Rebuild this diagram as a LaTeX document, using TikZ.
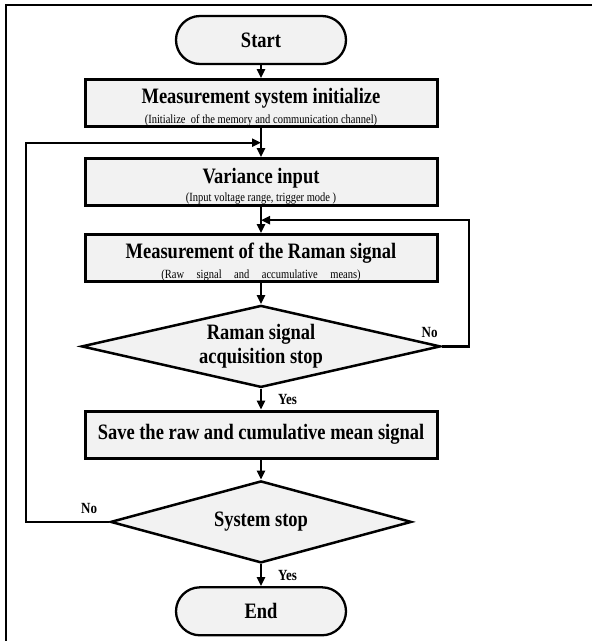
\documentclass[tikz,border=0pt]{standalone}
\usepackage{fontspec}
\setmainfont[FakeStretch=0.84]{Liberation Serif}
\usetikzlibrary{shapes.geometric, arrows.meta, positioning, calc}
\definecolor{boxgray}{HTML}{F2F2F2}
\newcommand{\subline}[1]{{\fontsize{12.5}{14}\selectfont\mdseries #1}}
\newcommand{\boxtitle}[1]{\rule{0pt}{24pt}#1}

\begin{document}
\begin{tikzpicture}[
  x=1pt, y=-1pt,
  node distance=20pt,
  term/.style={draw, line width=2.3pt, fill=boxgray, rounded corners=24pt,
               minimum width=170pt, minimum height=48pt,
               font=\fontsize{22}{24}\selectfont\bfseries},
  box/.style={draw, line width=3pt, fill=boxgray, minimum width=352pt,
              minimum height=47pt, inner sep=0pt, align=center,
              font=\fontsize{22}{24}\selectfont\bfseries},
  dec/.style={draw, diamond, line width=2.5pt, fill=boxgray, inner sep=0pt,
              aspect=4.3, minimum height=82pt, align=center,
              font=\fontsize{22}{24}\selectfont\bfseries},
  arr/.style={-{Triangle[length=9pt, width=8pt]}, line width=2.3pt},
  lbl/.style={inner sep=0pt, font=\fontsize{15.5}{16}\selectfont\bfseries}
]
\useasboundingbox (0,0) rectangle (592,641);
\draw[line width=2.5pt] (6,641) -- (6,5) -- (592,5);

\node[term] (start) at (261,40) {Start};
\node[box, below=13pt of start] (init) {\boxtitle{Measurement system initialize}\\[-4pt]\subline{(Initialize\ \ of the memory and communication channel)}};
\node[box, below=29pt of init] (var) {\boxtitle{Variance input}\\[-6pt]\subline{(Input voltage range, trigger mode )}};
\node[box, below=26pt of var] (meas) {\boxtitle{Measurement of the Raman signal}\\[-4pt]\subline{(Raw\quad signal\quad and\quad accumulative\quad means)}};
\node[dec, minimum width=359pt, below=21pt of meas] (acq) {Raman signal\\acquisition stop};
\node[box, below=21pt of acq] (save) {Save the raw and cumulative mean signal};
\node[dec, minimum width=301pt, below=20pt of save] (sys) {System stop};
\node[term, below=22pt of sys] (end) {End};

\coordinate (j1) at ($(init.south)!0.5!(var.north)$);
\coordinate (j2) at ($(var.south)!0.5!(meas.north)$);

\draw[arr] (start) -- (init);
\draw[arr] (init) -- (var);
\draw[arr] (var) -- (meas);
\draw[arr] (meas) -- (acq);
\draw[arr] (acq) -- node[lbl, right=16pt] {Yes} (save);
\draw[arr] (save) -- (sys);
\draw[arr] (sys) -- node[lbl, right=16pt] {Yes} (end);

% loops back
\draw[arr] (acq.east) -- ++(27,0) |- (j2);
\draw[arr] (sys.west) -- ++(-83,0) |- (j1);
\node[lbl, above left=9pt and 4pt of acq.east] (no1) {No};
\node[lbl, above left=8pt and 12pt of sys.west] (no2) {No};
\end{tikzpicture}
\end{document}
